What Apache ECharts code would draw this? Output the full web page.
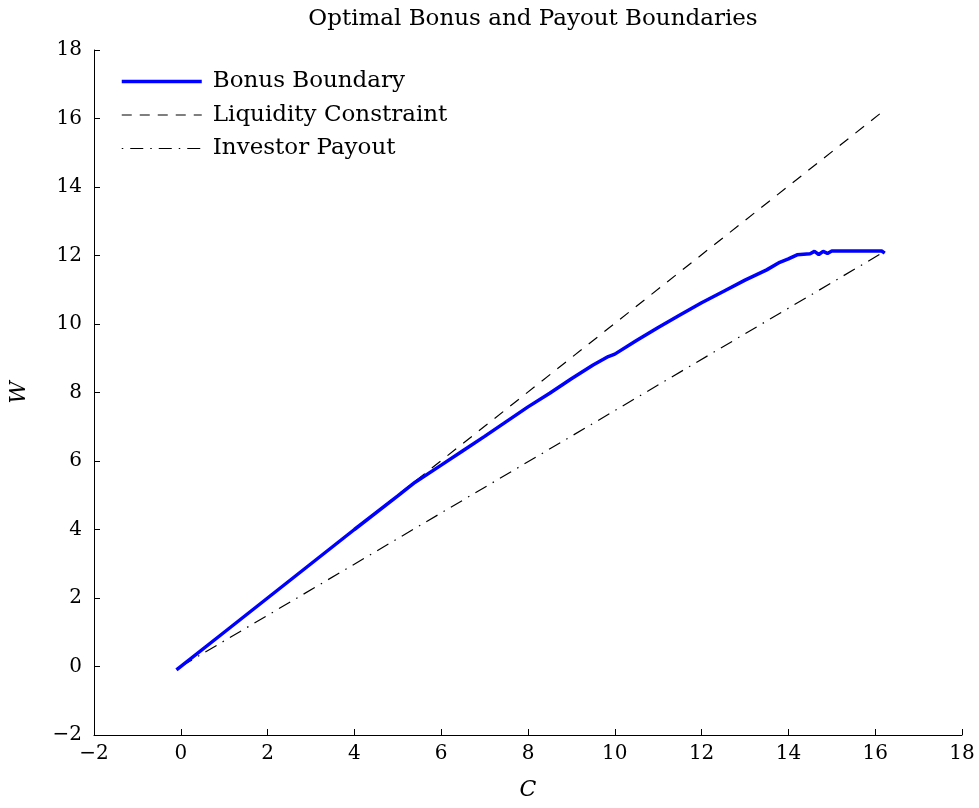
<!DOCTYPE html>
<html>
<head>
<meta charset="utf-8">
<script src="https://cdn.jsdelivr.net/npm/echarts@6/dist/echarts.min.js"></script>
<style>
  html, body { margin: 0; padding: 0; background: #fff; }
  #main { width: 979px; height: 808px; }
</style>
</head>
<body>
<div id="main"></div>
<script>
// values
const bonusC = [-0.1, 1, 2, 3, 4, 5, 5.4, 6, 6.5, 7, 7.5, 8, 8.5, 9, 9.5, 9.85, 10, 10.5, 11, 11.5, 12, 12.5, 13, 13.5, 13.8, 14, 14.2, 14.5, 14.6, 14.7, 14.8, 14.9, 15, 16.15, 16.22]
const bonusW = [-0.1, 1, 2, 3, 4, 4.98, 5.38, 5.88, 6.3, 6.72, 7.15, 7.58, 7.98, 8.4, 8.8, 9.05, 9.12, 9.52, 9.9, 10.26, 10.62, 10.95, 11.28, 11.58, 11.8, 11.9, 12.02, 12.05, 12.12, 12.03, 12.12, 12.06, 12.13, 12.13, 12.07]
const liquidityC = [0, 16.22]
const liquidityW = [0, 16.25]
const payoutC = [0, 16.22]
const payoutW = [0, 12.12]
const xTicks = { min: -2, max: 18, interval: 2 }
const yTicks = { min: -2, max: 18, interval: 2 }

const pairs = (xs, ys) => xs.map((x, i) => [x, ys[i]])
const serif = 'DejaVu Serif'
const minus = v => v < 0 ? '\u2212' + Math.abs(v) : String(v)

const option = {
  animation: false,
  title: {
    text: 'Optimal Bonus and Payout Boundaries',
    left: 528,
    top: 3,
    textAlign: 'center',
    textStyle: { fontFamily: serif, fontWeight: 'normal', fontSize: 23, color: '#000' }
  },
  legend: {
    orient: 'vertical',
    left: 115,
    top: 65,
    itemWidth: 80,
    itemHeight: 12,
    itemGap: 10.5,
    itemStyle: { opacity: 0 },
    textStyle: { fontFamily: serif, fontSize: 23, color: '#000', padding: [0, 0, 0, 6] },
    data: [
      { name: 'Bonus Boundary', lineStyle: { width: 3.5, color: '#0000ff' } },
      { name: 'Liquidity Constraint', lineStyle: { width: 1.2, color: '#000', type: [10, 8] } },
      { name: 'Investor Payout', lineStyle: { width: 1.2, color: '#000', type: [1.5, 7, 13, 7] } }
    ]
  },
  grid: { left: 93, right: 17, top: 50, bottom: 73 },
  xAxis: {
    type: 'value',
    min: xTicks.min, max: xTicks.max, interval: xTicks.interval,
    name: 'C',
    nameLocation: 'middle',
    nameGap: 44,
    nameTextStyle: { fontFamily: serif, fontStyle: 'italic', fontSize: 22, color: '#000' },
    axisLine: { onZero: false, lineStyle: { color: '#000', width: 1 } },
    axisTick: { inside: true, length: 6, lineStyle: { color: '#000' } },
    axisLabel: { fontFamily: serif, fontSize: 20, color: '#000', margin: 9, formatter: minus },
    splitLine: { show: false }
  },
  yAxis: {
    type: 'value',
    min: yTicks.min, max: yTicks.max, interval: yTicks.interval,
    name: 'W',
    nameLocation: 'middle',
    nameGap: 64,
    nameTextStyle: { fontFamily: serif, fontStyle: 'italic', fontSize: 22, color: '#000' },
    axisLine: { show: true, onZero: false, lineStyle: { color: '#000', width: 1 } },
    axisTick: { show: true, inside: true, length: 6, lineStyle: { color: '#000' } },
    axisLabel: { fontFamily: serif, fontSize: 20, color: '#000', margin: 12, formatter: minus },
    splitLine: { show: false }
  },
  series: [
    {
      name: 'Liquidity Constraint',
      type: 'line',
      symbol: 'none',
      z: 2,
      lineStyle: { color: '#000', width: 1.2, type: [11, 9] },
      itemStyle: { color: '#000' },
      data: pairs(liquidityC, liquidityW)
    },
    {
      name: 'Investor Payout',
      type: 'line',
      symbol: 'none',
      z: 2,
      lineStyle: { color: '#000', width: 1.2, type: [13, 7, 1.5, 7] },
      itemStyle: { color: '#000' },
      data: pairs(payoutC, payoutW)
    },
    {
      name: 'Bonus Boundary',
      type: 'line',
      symbol: 'none',
      z: 3,
      lineStyle: { color: '#0000ff', width: 3.5 },
      itemStyle: { color: '#0000ff' },
      data: pairs(bonusC, bonusW)
    }
  ]
}

echarts.init(document.getElementById('main')).setOption(option)
</script>
</body>
</html>
